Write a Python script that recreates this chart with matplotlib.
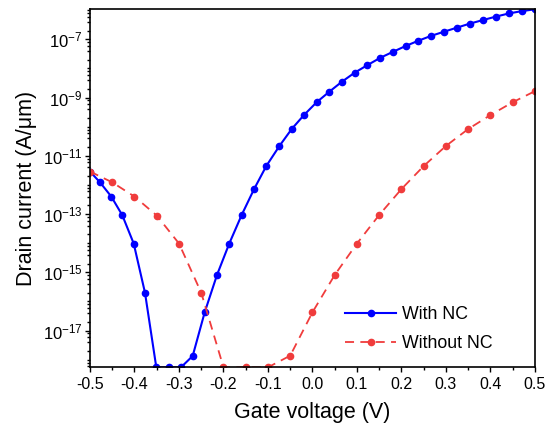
import numpy as np
import matplotlib
matplotlib.use("Agg")
import matplotlib.pyplot as plt
from matplotlib.ticker import FixedLocator, NullFormatter

plt.rcParams['font.family'] = ['Liberation Sans', 'DejaVu Sans']
plt.rcParams['mathtext.fontset'] = 'custom'
plt.rcParams['mathtext.rm'] = 'Liberation Sans'
plt.rcParams['mathtext.it'] = 'Liberation Sans:italic'
plt.rcParams['mathtext.bf'] = 'Liberation Sans:bold'
plt.rcParams['axes.unicode_minus'] = False

# With NC (log10 of drain current, A/um)
vg_nc = [-0.5, -0.4775, -0.4521, -0.4274, -0.4018, -0.3764, -0.3510, -0.3225,
         -0.2955, -0.2692, -0.2422, -0.2146, -0.1870, -0.1591, -0.1315, -0.1038,
         -0.0742, -0.0467, -0.0191, 0.0094, 0.0378, 0.0663, 0.0948, 0.1231,
         0.1517, 0.1809, 0.2094, 0.2378, 0.2670, 0.2955, 0.3247, 0.3539,
         0.3831, 0.4124, 0.4422, 0.4715, 0.5]
logi_nc = [-11.54, -11.91, -12.40, -13.04, -14.01, -15.70, -18.26, -18.26,
           -18.26, -17.87, -16.37, -15.09, -14.01, -13.03, -12.15, -11.35,
           -10.66, -10.08, -9.60, -9.16, -8.80, -8.455, -8.146, -7.89,
           -7.64, -7.43, -7.23, -7.05, -6.88, -6.74, -6.60, -6.46,
           -6.34, -6.22, -6.11, -6.03, -5.97]

# Without NC
vg_ref = [-0.5, -0.45, -0.4, -0.35, -0.3, -0.25, -0.2, -0.15, -0.1, -0.05, 0.0,
          0.05, 0.1, 0.15, 0.2, 0.25, 0.3, 0.35, 0.4, 0.45, 0.5]
logi_ref = [-11.54, -11.91, -12.40, -13.05, -14.01, -15.70, -18.26, -18.26,
            -18.26, -17.86, -16.37, -15.09, -14.01, -13.03, -12.14, -11.35,
            -10.66, -10.08, -9.60, -9.16, -8.78]

i_nc = 10.0 ** np.array(logi_nc)
i_ref = 10.0 ** np.array(logi_ref)

fig = plt.figure(figsize=(5.59, 4.28), dpi=100)
ax = fig.add_axes([0.161, 0.1418, 0.796, 0.8365])

ax.plot(vg_nc, i_nc, color='#0000FF', lw=1.5, marker='o', ms=4.5,
        label='With NC')
ax.plot(vg_ref, i_ref, color='#F03C3C', lw=1.3, ls=(0, (5, 3.5)), marker='o',
        ms=4.5, label='Without NC')

ax.set_yscale('log')
ax.set_xlim(-0.5, 0.5)
ax.set_ylim(10 ** -18.26, 10 ** -5.97)

xt = np.round(np.arange(-0.5, 0.51, 0.1), 1)
ax.set_xticks(xt)
ax.set_xticklabels([f"{abs(v):.1f}" if v == 0 else f"{v:.1f}" for v in xt])
ax.xaxis.set_minor_locator(FixedLocator(np.arange(-0.45, 0.5, 0.1)))

majors = [10.0 ** e for e in range(-17, -6, 2)]
ax.yaxis.set_major_locator(FixedLocator(majors))
ax.set_yticklabels([rf"$10^{{{e}}}$" for e in range(-17, -6, 2)])
minors = []
for e in range(-19, -5):
    for s in (1, 2, 4, 6, 8):
        if s == 1 and e % 2 != 0:
            continue
        minors.append(s * 10.0 ** e)
ax.yaxis.set_minor_locator(FixedLocator(minors))
ax.yaxis.set_minor_formatter(NullFormatter())

ax.tick_params(which='major', direction='out', length=3.8, width=1,
               labelsize=11.5, top=False, right=False)
ax.tick_params(axis='y', which='major', pad=1.5, labelsize=12)
ax.tick_params(which='minor', direction='out', length=2.3, width=1,
               top=False, right=False)
for sp in ax.spines.values():
    sp.set_linewidth(1.2)

ax.set_xlabel('Gate voltage (V)', fontsize=15.5, labelpad=7)
ax.set_ylabel('Drain current (A/\u03bcm)', fontsize=15.5, labelpad=4)

ax.legend(loc='lower right', bbox_to_anchor=(0.94, -0.002), frameon=False,
          fontsize=12.8, handlelength=2.9, handletextpad=0.3,
          labelspacing=0.65)

fig.savefig('out.png', dpi=100)
